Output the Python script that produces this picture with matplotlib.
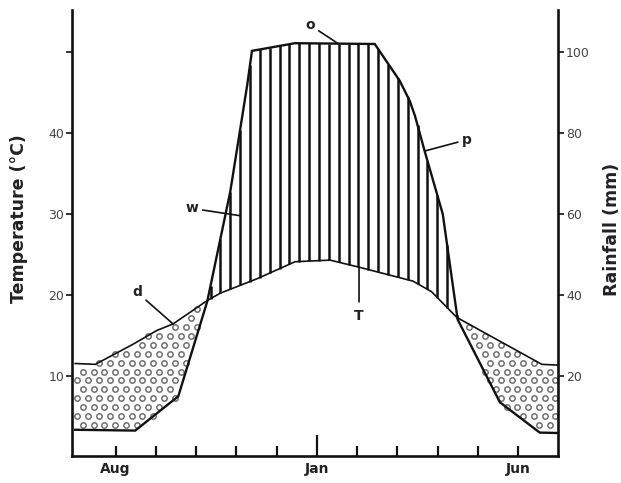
import numpy as np
import matplotlib
matplotlib.use('Agg')
import matplotlib.pyplot as plt
from matplotlib.path import Path

# ---- data (month index: 0 = Jul ... 12 = Jul) ----
tick_months = list(range(1, 12))
month_pos = [1, 6, 11]
month_labels = ['Aug', 'Jan', 'Jun']

temp_x = [0, 0.5, 1.44, 2.03, 2.43, 3.28, 3.6, 4.52, 5.46, 6.33, 7.07, 8.39, 8.85, 9.48, 11.59, 12.0]
temp_c = [11.5, 11.4, 13.9, 15.6, 16.4, 19.3, 20.2, 22.0, 24.1, 24.3, 23.4, 21.7, 20.4, 17.2, 11.4, 11.3]

rain_x = [0, 1.49, 2.56, 3.28, 3.85, 4.27, 4.39, 5.46, 7.44, 8.06, 8.31, 8.44, 8.68, 9.13, 9.5, 10.55, 11.54, 12.0]
rain_mm = [6.6, 6.4, 14.9, 38.4, 65.5, 91.8, 100.4, 102.3, 102.1, 93, 88, 84.3, 75.6, 60, 33.9, 13.4, 5.9, 5.8]

temp_ticks = [10, 20, 30, 40, 50]
temp_ticklabels = ['10', '20', '30', '40', '']
rain_ticks = [20, 40, 60, 80, 100]

INK = '#111111'
LBL = '#444444'

fig = plt.figure(figsize=(6.21, 4.83), dpi=100)
ax = fig.add_axes([0.116, 0.055, 0.783, 0.925])
ax.set_xlim(-0.08, 12.0)
ax.set_ylim(0, 55.3)

xs = np.linspace(0, 12, 2401)
T = np.interp(xs, temp_x, temp_c)
H = np.interp(xs, rain_x, rain_mm) / 2.0

# dry period: dotted
dry = ax.fill_between(xs, H, T, where=T >= H, interpolate=True,
                      facecolor='none', edgecolor='none')
clip = Path.make_compound_path(*dry.get_paths())
gx, gy = np.meshgrid(np.arange(0.05, 12.2, 0.27), np.arange(0.6, 30, 1.1))
gx = gx + (np.arange(gy.shape[0])[:, None] % 2) * 0.135
pts = np.column_stack([gx.ravel(), gy.ravel()])
inside = clip.contains_points(pts)
pts = pts[inside]
ax.scatter(pts[:, 0], pts[:, 1], s=15, facecolors='white', edgecolors='#707070',
           linewidths=1.1, zorder=2)

# humid period: vertical hatching
for xh in np.arange(3.36, 9.5, 0.245):
    t = np.interp(xh, temp_x, temp_c)
    p = np.interp(xh, rain_x, rain_mm) / 2.0
    if p - t > 0.2:
        ax.vlines(xh, t, p, colors=INK, lw=1.8, zorder=2)

ax.plot(temp_x, temp_c, color=INK, lw=1.2, zorder=3)
ax.plot(rain_x, np.array(rain_mm) / 2.0, color=INK, lw=1.7, zorder=3,
        solid_joinstyle='miter')

# axes styling
for s in ['top', 'right']:
    ax.spines[s].set_visible(False)
ax.spines['left'].set_linewidth(1.9)
ax.spines['bottom'].set_linewidth(1.9)
ax.spines['left'].set_color(INK)
ax.spines['bottom'].set_color(INK)

ax.set_yticks(temp_ticks)
ax.set_yticklabels(temp_ticklabels)
ax.tick_params(axis='y', direction='out', length=4, width=1.2, labelsize=9,
               labelcolor=LBL, color=INK, pad=1.5)

ax.set_xticks(tick_months)
ax.set_xticklabels([month_labels[month_pos.index(m)] if m in month_pos else '' for m in tick_months],
                   fontweight='bold', fontsize=10)
ax.tick_params(axis='x', direction='in', length=7, width=1.6, color=INK, pad=4,
               labelcolor='#222222')
ax.xaxis.get_major_ticks()[month_pos[1] - 1].tick1line.set_markersize(15)

ax2 = ax.twinx()
ax2.set_ylim(0, 110.6)
for s in ['top', 'left', 'bottom']:
    ax2.spines[s].set_visible(False)
ax2.spines['right'].set_linewidth(1.9)
ax2.spines['right'].set_color(INK)
ax2.set_yticks(rain_ticks)
ax2.tick_params(axis='y', direction='out', length=4, width=1.2, labelsize=9,
                labelcolor=LBL, color=INK, pad=1.5)

fig.text(0.031, 0.548, 'Temperature (°C)', rotation=90, ha='center', va='center',
         fontsize=12.5, fontweight='bold', color='#222222')
fig.text(0.986, 0.526, 'Rainfall (mm)', rotation=90, ha='center', va='center',
         fontsize=12.5, fontweight='bold', color='#222222')

# annotations
ap = dict(arrowstyle='-', lw=1.2, color=INK, shrinkA=1, shrinkB=0)
tf = dict(fontsize=10, fontweight='bold', color='#222222', ha='center', va='center')
ax.annotate('o', xy=(6.53, 51.1), xytext=(5.83, 53.4), arrowprops=ap, **tf)
ax.annotate('w', xy=(4.09, 29.8), xytext=(2.9, 30.7), arrowprops=ap, **tf)
ax.annotate('d', xy=(2.43, 16.4), xytext=(1.54, 20.3), arrowprops=ap, **tf)
ax.annotate('p', xy=(8.68, 37.8), xytext=(9.73, 39.2), arrowprops=ap, **tf)
tx = 7.05
ax.annotate('T', xy=(tx, np.interp(tx, temp_x, temp_c)), xytext=(tx, 17.4),
            arrowprops=dict(ap, shrinkA=3), **tf)

fig.savefig('out.png', dpi=100, facecolor='white')
